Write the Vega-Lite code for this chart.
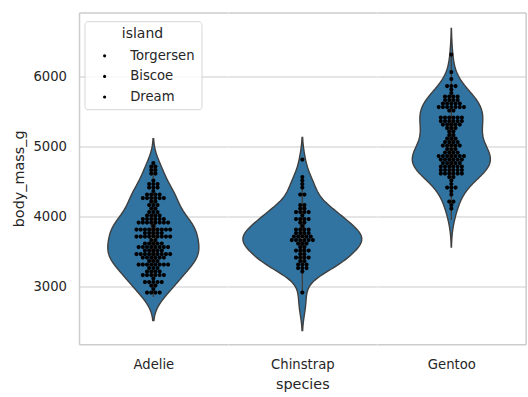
{
"$schema": "https://vega.github.io/schema/vega-lite/v6.json",
"background": "white",
"padding": {"left": 11, "top": 12.5, "right": 4, "bottom": 5},
"spacing": 0,
"bounds": "flush",
"config": {
  "view": {"stroke": null},
  "font": "DejaVu Sans",
  "legend": {"orient": "none", "legendX": 5.5, "legendY": 8.7, "fillColor": "rgba(255,255,255,0.8)", "strokeColor": "#d6d6d6", "cornerRadius": 3, "padding": 6, "titleFontSize": 14, "titleFontWeight": "normal", "titleColor": "#262626", "titleAnchor": "middle", "titlePadding": 8, "labelFontSize": 13.2, "labelColor": "#262626", "labelOffset": 19, "symbolOffset": 7.5, "symbolSize": 10, "symbolType": "circle", "symbolStrokeWidth": 0, "rowPadding": 6.6}
},
"datasets": {"penguins": [
{"species":"Adelie","island":"Torgersen","body_mass_g":3750},{"species":"Adelie","island":"Torgersen","body_mass_g":3800},{"species":"Adelie","island":"Torgersen","body_mass_g":3250},{"species":"Adelie","island":"Torgersen","body_mass_g":3450},{"species":"Adelie","island":"Torgersen","body_mass_g":3650},{"species":"Adelie","island":"Torgersen","body_mass_g":3625},{"species":"Adelie","island":"Torgersen","body_mass_g":4675},{"species":"Adelie","island":"Torgersen","body_mass_g":3475},{"species":"Adelie","island":"Torgersen","body_mass_g":4250},{"species":"Adelie","island":"Torgersen","body_mass_g":3300},{"species":"Adelie","island":"Torgersen","body_mass_g":3700},{"species":"Adelie","island":"Torgersen","body_mass_g":3200},{"species":"Adelie","island":"Torgersen","body_mass_g":3800},{"species":"Adelie","island":"Torgersen","body_mass_g":4400},{"species":"Adelie","island":"Torgersen","body_mass_g":3700},{"species":"Adelie","island":"Torgersen","body_mass_g":3450},{"species":"Adelie","island":"Torgersen","body_mass_g":4500},{"species":"Adelie","island":"Torgersen","body_mass_g":3325},{"species":"Adelie","island":"Torgersen","body_mass_g":4200},
{"species":"Adelie","island":"Biscoe","body_mass_g":3400},{"species":"Adelie","island":"Biscoe","body_mass_g":3600},{"species":"Adelie","island":"Biscoe","body_mass_g":3800},{"species":"Adelie","island":"Biscoe","body_mass_g":3950},{"species":"Adelie","island":"Biscoe","body_mass_g":3800},{"species":"Adelie","island":"Biscoe","body_mass_g":3800},{"species":"Adelie","island":"Biscoe","body_mass_g":3550},{"species":"Adelie","island":"Biscoe","body_mass_g":3200},{"species":"Adelie","island":"Biscoe","body_mass_g":3150},{"species":"Adelie","island":"Biscoe","body_mass_g":3950},{"species":"Adelie","island":"Biscoe","body_mass_g":3250},{"species":"Adelie","island":"Biscoe","body_mass_g":3900},{"species":"Adelie","island":"Biscoe","body_mass_g":3300},{"species":"Adelie","island":"Biscoe","body_mass_g":3900},{"species":"Adelie","island":"Biscoe","body_mass_g":3325},{"species":"Adelie","island":"Biscoe","body_mass_g":4150},{"species":"Adelie","island":"Biscoe","body_mass_g":3950},{"species":"Adelie","island":"Biscoe","body_mass_g":3550},{"species":"Adelie","island":"Biscoe","body_mass_g":3300},{"species":"Adelie","island":"Biscoe","body_mass_g":4650},{"species":"Adelie","island":"Biscoe","body_mass_g":3150},{"species":"Adelie","island":"Biscoe","body_mass_g":3900},{"species":"Adelie","island":"Biscoe","body_mass_g":3100},{"species":"Adelie","island":"Biscoe","body_mass_g":4400},{"species":"Adelie","island":"Biscoe","body_mass_g":3000},{"species":"Adelie","island":"Biscoe","body_mass_g":4600},{"species":"Adelie","island":"Biscoe","body_mass_g":3425},{"species":"Adelie","island":"Biscoe","body_mass_g":2975},{"species":"Adelie","island":"Biscoe","body_mass_g":3450},{"species":"Adelie","island":"Biscoe","body_mass_g":4150},{"species":"Adelie","island":"Biscoe","body_mass_g":3500},{"species":"Adelie","island":"Biscoe","body_mass_g":4300},{"species":"Adelie","island":"Biscoe","body_mass_g":3450},{"species":"Adelie","island":"Biscoe","body_mass_g":4050},{"species":"Adelie","island":"Biscoe","body_mass_g":2900},{"species":"Adelie","island":"Biscoe","body_mass_g":3700},{"species":"Adelie","island":"Biscoe","body_mass_g":3550},{"species":"Adelie","island":"Biscoe","body_mass_g":3800},{"species":"Adelie","island":"Biscoe","body_mass_g":2850},{"species":"Adelie","island":"Biscoe","body_mass_g":3750},{"species":"Adelie","island":"Biscoe","body_mass_g":3150},{"species":"Adelie","island":"Biscoe","body_mass_g":4400},{"species":"Adelie","island":"Biscoe","body_mass_g":3600},{"species":"Adelie","island":"Biscoe","body_mass_g":4050},
{"species":"Adelie","island":"Dream","body_mass_g":2850},{"species":"Adelie","island":"Dream","body_mass_g":3950},{"species":"Adelie","island":"Dream","body_mass_g":3350},{"species":"Adelie","island":"Dream","body_mass_g":4100},{"species":"Adelie","island":"Dream","body_mass_g":3050},{"species":"Adelie","island":"Dream","body_mass_g":4450},{"species":"Adelie","island":"Dream","body_mass_g":3600},{"species":"Adelie","island":"Dream","body_mass_g":3900},{"species":"Adelie","island":"Dream","body_mass_g":3550},{"species":"Adelie","island":"Dream","body_mass_g":4150},{"species":"Adelie","island":"Dream","body_mass_g":3700},{"species":"Adelie","island":"Dream","body_mass_g":4250},{"species":"Adelie","island":"Dream","body_mass_g":3700},{"species":"Adelie","island":"Dream","body_mass_g":3900},{"species":"Adelie","island":"Dream","body_mass_g":3550},{"species":"Adelie","island":"Dream","body_mass_g":4000},{"species":"Adelie","island":"Dream","body_mass_g":3200},{"species":"Adelie","island":"Dream","body_mass_g":4700},{"species":"Adelie","island":"Dream","body_mass_g":3800},{"species":"Adelie","island":"Dream","body_mass_g":4200},{"species":"Adelie","island":"Dream","body_mass_g":3350},{"species":"Adelie","island":"Dream","body_mass_g":3550},{"species":"Adelie","island":"Dream","body_mass_g":3800},{"species":"Adelie","island":"Dream","body_mass_g":3500},{"species":"Adelie","island":"Dream","body_mass_g":3950},{"species":"Adelie","island":"Dream","body_mass_g":3600},{"species":"Adelie","island":"Dream","body_mass_g":3550},{"species":"Adelie","island":"Dream","body_mass_g":4300},{"species":"Adelie","island":"Dream","body_mass_g":3400},{"species":"Adelie","island":"Dream","body_mass_g":4450},{"species":"Adelie","island":"Dream","body_mass_g":3300},{"species":"Adelie","island":"Dream","body_mass_g":4300},{"species":"Adelie","island":"Dream","body_mass_g":3700},{"species":"Adelie","island":"Dream","body_mass_g":4350},{"species":"Adelie","island":"Dream","body_mass_g":2900},{"species":"Adelie","island":"Dream","body_mass_g":4100},{"species":"Adelie","island":"Dream","body_mass_g":3725},{"species":"Adelie","island":"Dream","body_mass_g":4725},{"species":"Adelie","island":"Dream","body_mass_g":3075},{"species":"Adelie","island":"Dream","body_mass_g":4250},{"species":"Adelie","island":"Dream","body_mass_g":2925},{"species":"Adelie","island":"Dream","body_mass_g":3550},{"species":"Adelie","island":"Dream","body_mass_g":3750},{"species":"Adelie","island":"Dream","body_mass_g":3900},{"species":"Adelie","island":"Dream","body_mass_g":3175},{"species":"Adelie","island":"Dream","body_mass_g":4775},{"species":"Adelie","island":"Dream","body_mass_g":3825},{"species":"Adelie","island":"Dream","body_mass_g":4600},{"species":"Adelie","island":"Dream","body_mass_g":3200},{"species":"Adelie","island":"Dream","body_mass_g":4275},{"species":"Adelie","island":"Dream","body_mass_g":3900},{"species":"Adelie","island":"Dream","body_mass_g":4075},{"species":"Adelie","island":"Dream","body_mass_g":2900},{"species":"Adelie","island":"Dream","body_mass_g":3775},{"species":"Adelie","island":"Dream","body_mass_g":3350},{"species":"Adelie","island":"Dream","body_mass_g":3325},
{"species":"Adelie","island":"Torgersen","body_mass_g":3150},{"species":"Adelie","island":"Torgersen","body_mass_g":3500},{"species":"Adelie","island":"Torgersen","body_mass_g":3450},{"species":"Adelie","island":"Torgersen","body_mass_g":3875},{"species":"Adelie","island":"Torgersen","body_mass_g":3050},{"species":"Adelie","island":"Torgersen","body_mass_g":4000},{"species":"Adelie","island":"Torgersen","body_mass_g":3275},{"species":"Adelie","island":"Torgersen","body_mass_g":4300},{"species":"Adelie","island":"Torgersen","body_mass_g":3050},{"species":"Adelie","island":"Torgersen","body_mass_g":4000},{"species":"Adelie","island":"Torgersen","body_mass_g":3325},{"species":"Adelie","island":"Torgersen","body_mass_g":3500},{"species":"Adelie","island":"Torgersen","body_mass_g":3500},{"species":"Adelie","island":"Torgersen","body_mass_g":4475},{"species":"Adelie","island":"Torgersen","body_mass_g":3425},{"species":"Adelie","island":"Torgersen","body_mass_g":3900},{"species":"Adelie","island":"Torgersen","body_mass_g":3175},{"species":"Adelie","island":"Torgersen","body_mass_g":3975},{"species":"Adelie","island":"Torgersen","body_mass_g":3400},{"species":"Adelie","island":"Torgersen","body_mass_g":4250},{"species":"Adelie","island":"Torgersen","body_mass_g":3400},{"species":"Adelie","island":"Torgersen","body_mass_g":3475},{"species":"Adelie","island":"Torgersen","body_mass_g":3050},{"species":"Adelie","island":"Torgersen","body_mass_g":3725},{"species":"Adelie","island":"Torgersen","body_mass_g":3000},{"species":"Adelie","island":"Torgersen","body_mass_g":3650},{"species":"Adelie","island":"Torgersen","body_mass_g":4250},{"species":"Adelie","island":"Torgersen","body_mass_g":3475},{"species":"Adelie","island":"Torgersen","body_mass_g":3450},{"species":"Adelie","island":"Torgersen","body_mass_g":3750},{"species":"Adelie","island":"Torgersen","body_mass_g":3700},{"species":"Adelie","island":"Torgersen","body_mass_g":4000},
{"species":"Chinstrap","island":"Dream","body_mass_g":3500},{"species":"Chinstrap","island":"Dream","body_mass_g":3900},{"species":"Chinstrap","island":"Dream","body_mass_g":3650},{"species":"Chinstrap","island":"Dream","body_mass_g":3525},{"species":"Chinstrap","island":"Dream","body_mass_g":3725},{"species":"Chinstrap","island":"Dream","body_mass_g":3950},{"species":"Chinstrap","island":"Dream","body_mass_g":3250},{"species":"Chinstrap","island":"Dream","body_mass_g":3750},{"species":"Chinstrap","island":"Dream","body_mass_g":4150},{"species":"Chinstrap","island":"Dream","body_mass_g":3700},{"species":"Chinstrap","island":"Dream","body_mass_g":3800},{"species":"Chinstrap","island":"Dream","body_mass_g":3775},{"species":"Chinstrap","island":"Dream","body_mass_g":3700},{"species":"Chinstrap","island":"Dream","body_mass_g":4050},{"species":"Chinstrap","island":"Dream","body_mass_g":3575},{"species":"Chinstrap","island":"Dream","body_mass_g":4050},{"species":"Chinstrap","island":"Dream","body_mass_g":3300},{"species":"Chinstrap","island":"Dream","body_mass_g":3700},{"species":"Chinstrap","island":"Dream","body_mass_g":3450},{"species":"Chinstrap","island":"Dream","body_mass_g":4400},{"species":"Chinstrap","island":"Dream","body_mass_g":3600},{"species":"Chinstrap","island":"Dream","body_mass_g":3400},{"species":"Chinstrap","island":"Dream","body_mass_g":2900},{"species":"Chinstrap","island":"Dream","body_mass_g":3800},{"species":"Chinstrap","island":"Dream","body_mass_g":3300},{"species":"Chinstrap","island":"Dream","body_mass_g":4150},{"species":"Chinstrap","island":"Dream","body_mass_g":3400},{"species":"Chinstrap","island":"Dream","body_mass_g":3800},{"species":"Chinstrap","island":"Dream","body_mass_g":3700},{"species":"Chinstrap","island":"Dream","body_mass_g":4550},{"species":"Chinstrap","island":"Dream","body_mass_g":3200},{"species":"Chinstrap","island":"Dream","body_mass_g":4300},{"species":"Chinstrap","island":"Dream","body_mass_g":3350},{"species":"Chinstrap","island":"Dream","body_mass_g":4100},{"species":"Chinstrap","island":"Dream","body_mass_g":3600},{"species":"Chinstrap","island":"Dream","body_mass_g":3900},{"species":"Chinstrap","island":"Dream","body_mass_g":3850},{"species":"Chinstrap","island":"Dream","body_mass_g":4800},{"species":"Chinstrap","island":"Dream","body_mass_g":2700},{"species":"Chinstrap","island":"Dream","body_mass_g":4500},{"species":"Chinstrap","island":"Dream","body_mass_g":3950},{"species":"Chinstrap","island":"Dream","body_mass_g":3650},{"species":"Chinstrap","island":"Dream","body_mass_g":3550},{"species":"Chinstrap","island":"Dream","body_mass_g":3500},{"species":"Chinstrap","island":"Dream","body_mass_g":3675},{"species":"Chinstrap","island":"Dream","body_mass_g":4450},{"species":"Chinstrap","island":"Dream","body_mass_g":3400},{"species":"Chinstrap","island":"Dream","body_mass_g":4300},{"species":"Chinstrap","island":"Dream","body_mass_g":3250},{"species":"Chinstrap","island":"Dream","body_mass_g":3675},{"species":"Chinstrap","island":"Dream","body_mass_g":3325},{"species":"Chinstrap","island":"Dream","body_mass_g":3950},{"species":"Chinstrap","island":"Dream","body_mass_g":3600},{"species":"Chinstrap","island":"Dream","body_mass_g":4050},{"species":"Chinstrap","island":"Dream","body_mass_g":3350},{"species":"Chinstrap","island":"Dream","body_mass_g":3450},{"species":"Chinstrap","island":"Dream","body_mass_g":3250},{"species":"Chinstrap","island":"Dream","body_mass_g":4050},{"species":"Chinstrap","island":"Dream","body_mass_g":3800},{"species":"Chinstrap","island":"Dream","body_mass_g":3525},{"species":"Chinstrap","island":"Dream","body_mass_g":3950},{"species":"Chinstrap","island":"Dream","body_mass_g":3650},{"species":"Chinstrap","island":"Dream","body_mass_g":3650},{"species":"Chinstrap","island":"Dream","body_mass_g":4000},{"species":"Chinstrap","island":"Dream","body_mass_g":3400},{"species":"Chinstrap","island":"Dream","body_mass_g":3775},{"species":"Chinstrap","island":"Dream","body_mass_g":4100},{"species":"Chinstrap","island":"Dream","body_mass_g":3775},
{"species":"Gentoo","island":"Biscoe","body_mass_g":4500},{"species":"Gentoo","island":"Biscoe","body_mass_g":5700},{"species":"Gentoo","island":"Biscoe","body_mass_g":4450},{"species":"Gentoo","island":"Biscoe","body_mass_g":5700},{"species":"Gentoo","island":"Biscoe","body_mass_g":5400},{"species":"Gentoo","island":"Biscoe","body_mass_g":4550},{"species":"Gentoo","island":"Biscoe","body_mass_g":4800},{"species":"Gentoo","island":"Biscoe","body_mass_g":5200},{"species":"Gentoo","island":"Biscoe","body_mass_g":4400},{"species":"Gentoo","island":"Biscoe","body_mass_g":5150},
{"species":"Gentoo","island":"Biscoe","body_mass_g":4650},{"species":"Gentoo","island":"Biscoe","body_mass_g":5550},{"species":"Gentoo","island":"Biscoe","body_mass_g":4650},{"species":"Gentoo","island":"Biscoe","body_mass_g":5850},{"species":"Gentoo","island":"Biscoe","body_mass_g":4200},{"species":"Gentoo","island":"Biscoe","body_mass_g":5850},{"species":"Gentoo","island":"Biscoe","body_mass_g":4150},{"species":"Gentoo","island":"Biscoe","body_mass_g":6300},{"species":"Gentoo","island":"Biscoe","body_mass_g":4800},{"species":"Gentoo","island":"Biscoe","body_mass_g":5350},
{"species":"Gentoo","island":"Biscoe","body_mass_g":5700},{"species":"Gentoo","island":"Biscoe","body_mass_g":5000},{"species":"Gentoo","island":"Biscoe","body_mass_g":4400},{"species":"Gentoo","island":"Biscoe","body_mass_g":5050},{"species":"Gentoo","island":"Biscoe","body_mass_g":5000},{"species":"Gentoo","island":"Biscoe","body_mass_g":5100},{"species":"Gentoo","island":"Biscoe","body_mass_g":4100},{"species":"Gentoo","island":"Biscoe","body_mass_g":5650},{"species":"Gentoo","island":"Biscoe","body_mass_g":4600},{"species":"Gentoo","island":"Biscoe","body_mass_g":5550},
{"species":"Gentoo","island":"Biscoe","body_mass_g":5250},{"species":"Gentoo","island":"Biscoe","body_mass_g":4700},{"species":"Gentoo","island":"Biscoe","body_mass_g":5050},{"species":"Gentoo","island":"Biscoe","body_mass_g":6050},{"species":"Gentoo","island":"Biscoe","body_mass_g":5150},{"species":"Gentoo","island":"Biscoe","body_mass_g":5400},{"species":"Gentoo","island":"Biscoe","body_mass_g":4950},{"species":"Gentoo","island":"Biscoe","body_mass_g":5250},{"species":"Gentoo","island":"Biscoe","body_mass_g":4350},{"species":"Gentoo","island":"Biscoe","body_mass_g":5350},
{"species":"Gentoo","island":"Biscoe","body_mass_g":3950},{"species":"Gentoo","island":"Biscoe","body_mass_g":5700},{"species":"Gentoo","island":"Biscoe","body_mass_g":4300},{"species":"Gentoo","island":"Biscoe","body_mass_g":4750},{"species":"Gentoo","island":"Biscoe","body_mass_g":5550},{"species":"Gentoo","island":"Biscoe","body_mass_g":4900},{"species":"Gentoo","island":"Biscoe","body_mass_g":4200},{"species":"Gentoo","island":"Biscoe","body_mass_g":5400},{"species":"Gentoo","island":"Biscoe","body_mass_g":5100},{"species":"Gentoo","island":"Biscoe","body_mass_g":5300},
{"species":"Gentoo","island":"Biscoe","body_mass_g":4850},{"species":"Gentoo","island":"Biscoe","body_mass_g":5300},{"species":"Gentoo","island":"Biscoe","body_mass_g":4400},{"species":"Gentoo","island":"Biscoe","body_mass_g":5000},{"species":"Gentoo","island":"Biscoe","body_mass_g":4600},{"species":"Gentoo","island":"Biscoe","body_mass_g":5050},{"species":"Gentoo","island":"Biscoe","body_mass_g":4750},{"species":"Gentoo","island":"Biscoe","body_mass_g":5000},{"species":"Gentoo","island":"Biscoe","body_mass_g":5100},{"species":"Gentoo","island":"Biscoe","body_mass_g":5350},
{"species":"Gentoo","island":"Biscoe","body_mass_g":4700},{"species":"Gentoo","island":"Biscoe","body_mass_g":5650},{"species":"Gentoo","island":"Biscoe","body_mass_g":4625},{"species":"Gentoo","island":"Biscoe","body_mass_g":5600},{"species":"Gentoo","island":"Biscoe","body_mass_g":4900},{"species":"Gentoo","island":"Biscoe","body_mass_g":5350},{"species":"Gentoo","island":"Biscoe","body_mass_g":4675},{"species":"Gentoo","island":"Biscoe","body_mass_g":5350},{"species":"Gentoo","island":"Biscoe","body_mass_g":4850},{"species":"Gentoo","island":"Biscoe","body_mass_g":5600},
{"species":"Gentoo","island":"Biscoe","body_mass_g":4875},{"species":"Gentoo","island":"Biscoe","body_mass_g":5300},{"species":"Gentoo","island":"Biscoe","body_mass_g":4625},{"species":"Gentoo","island":"Biscoe","body_mass_g":5550},{"species":"Gentoo","island":"Biscoe","body_mass_g":4725},{"species":"Gentoo","island":"Biscoe","body_mass_g":5500},{"species":"Gentoo","island":"Biscoe","body_mass_g":4600},{"species":"Gentoo","island":"Biscoe","body_mass_g":5400},{"species":"Gentoo","island":"Biscoe","body_mass_g":4775},{"species":"Gentoo","island":"Biscoe","body_mass_g":5600},
{"species":"Gentoo","island":"Biscoe","body_mass_g":4900},{"species":"Gentoo","island":"Biscoe","body_mass_g":5800},{"species":"Gentoo","island":"Biscoe","body_mass_g":4950},{"species":"Gentoo","island":"Biscoe","body_mass_g":5600},{"species":"Gentoo","island":"Biscoe","body_mass_g":4825},{"species":"Gentoo","island":"Biscoe","body_mass_g":5250},{"species":"Gentoo","island":"Biscoe","body_mass_g":4650},{"species":"Gentoo","island":"Biscoe","body_mass_g":5650},{"species":"Gentoo","island":"Biscoe","body_mass_g":4725},{"species":"Gentoo","island":"Biscoe","body_mass_g":5550},
{"species":"Gentoo","island":"Biscoe","body_mass_g":4875},{"species":"Gentoo","island":"Biscoe","body_mass_g":5850},{"species":"Gentoo","island":"Biscoe","body_mass_g":4600},{"species":"Gentoo","island":"Biscoe","body_mass_g":5950},{"species":"Gentoo","island":"Biscoe","body_mass_g":4650},{"species":"Gentoo","island":"Biscoe","body_mass_g":5750},{"species":"Gentoo","island":"Biscoe","body_mass_g":4800},{"species":"Gentoo","island":"Biscoe","body_mass_g":5350},{"species":"Gentoo","island":"Biscoe","body_mass_g":4550},{"species":"Gentoo","island":"Biscoe","body_mass_g":5300},
{"species":"Gentoo","island":"Biscoe","body_mass_g":4725},{"species":"Gentoo","island":"Biscoe","body_mass_g":5600},{"species":"Gentoo","island":"Biscoe","body_mass_g":4750},{"species":"Gentoo","island":"Biscoe","body_mass_g":5050},{"species":"Gentoo","island":"Biscoe","body_mass_g":4650},{"species":"Gentoo","island":"Biscoe","body_mass_g":5550},{"species":"Gentoo","island":"Biscoe","body_mass_g":4800},{"species":"Gentoo","island":"Biscoe","body_mass_g":5000},{"species":"Gentoo","island":"Biscoe","body_mass_g":4850},{"species":"Gentoo","island":"Biscoe","body_mass_g":5400},
{"species":"Gentoo","island":"Biscoe","body_mass_g":4750},{"species":"Gentoo","island":"Biscoe","body_mass_g":5500},{"species":"Gentoo","island":"Biscoe","body_mass_g":4875},{"species":"Gentoo","island":"Biscoe","body_mass_g":5550},{"species":"Gentoo","island":"Biscoe","body_mass_g":4950},{"species":"Gentoo","island":"Biscoe","body_mass_g":5400},{"species":"Gentoo","island":"Biscoe","body_mass_g":4700},{"species":"Gentoo","island":"Biscoe","body_mass_g":5200},{"species":"Gentoo","island":"Biscoe","body_mass_g":4800},{"species":"Gentoo","island":"Biscoe","body_mass_g":5650},
{"species":"Gentoo","island":"Biscoe","body_mass_g":4850},{"species":"Gentoo","island":"Biscoe","body_mass_g":5300},{"species":"Gentoo","island":"Biscoe","body_mass_g":4925}
]},
"hconcat": [
{
 "width": 148.67, "height": 331.7,
 "layer": [
  {"data": {"name": "penguins"},
   "transform": [{"filter": "datum.species === 'Adelie'"}, {"density": "body_mass_g", "bandwidth": 168.1, "extent": [2514, 5111], "steps": 200}],
   "mark": {"type": "area", "orient": "horizontal", "fill": "#3274a1", "stroke": "#3f3f3f", "strokeWidth": 1.4},
   "encoding": {
     "x": {"field": "density", "type": "quantitative", "stack": "center", "impute": null, "scale": {"zero": true, "nice": false, "padding": 28.8},
           "axis": {"orient": "bottom", "domain": true, "domainColor": "#cccccc", "domainWidth": 1.5, "ticks": false, "labels": false, "grid": false, "title": "Adelie", "titleFontSize": 13.2, "titleFontWeight": "normal", "titleColor": "#262626", "titlePadding": 14}},
     "y": {"field": "value", "type": "quantitative", "scale": {"domain": [2175.7, 6914.3], "nice": false, "zero": false},
           "axis": {"values": [3000, 4000, 5000, 6000], "format": "d", "grid": true, "gridColor": "#cccccc", "gridWidth": 1.2, "domain": true, "domainColor": "#cccccc", "domainWidth": 1.5, "ticks": false, "tickSize": 0, "labelPadding": 12.5, "labelFontSize": 13.2, "labelColor": "#262626", "title": "body_mass_g", "titleFontSize": 14.4, "titleFontWeight": "normal", "titleColor": "#262626", "titlePadding": 6}}
   }},
  {"data": {"name": "penguins"},
   "transform": [{"filter": "datum.species === 'Adelie'"},
     {"joinaggregate": [{"op": "q1", "field": "body_mass_g", "as": "q1"}, {"op": "q3", "field": "body_mass_g", "as": "q3"}]},
     {"filter": "datum.body_mass_g >= datum.q1 - 1.5 * (datum.q3 - datum.q1) && datum.body_mass_g <= datum.q3 + 1.5 * (datum.q3 - datum.q1)"},
     {"aggregate": [{"op": "min", "field": "body_mass_g", "as": "lo"}, {"op": "max", "field": "body_mass_g", "as": "hi"}]}],
   "mark": {"type": "rule", "color": "#3f3f3f", "strokeWidth": 1.4},
   "encoding": {
     "x": {"datum": 0, "type": "quantitative", "scale": {"domain": [-1, 1]}, "axis": {"orient": "top", "domain": true, "domainColor": "#cccccc", "domainWidth": 1.5, "ticks": false, "labels": false, "grid": false, "title": null}},
     "y": {"field": "lo", "type": "quantitative", "scale": {"domain": [2175.7, 6914.3], "nice": false, "zero": false}, "axis": null},
     "y2": {"field": "hi"}
   }},
  {"data": {"name": "penguins"},
   "transform": [{"filter": "datum.species === 'Adelie'"},
     {"aggregate": [{"op": "q1", "field": "body_mass_g", "as": "q1"}, {"op": "q3", "field": "body_mass_g", "as": "q3"}, {"op": "median", "field": "body_mass_g", "as": "med"}]}],
   "layer": [
     {"mark": {"type": "rule", "color": "#3f3f3f", "strokeWidth": 5.5},
      "encoding": {
        "x": {"datum": 0, "type": "quantitative", "scale": {"domain": [-1, 1]}, "axis": null},
        "y": {"field": "q1", "type": "quantitative", "scale": {"domain": [2175.7, 6914.3], "nice": false, "zero": false}, "axis": null},
        "y2": {"field": "q3"}
      }},
     {"mark": {"type": "circle", "color": "white", "size": 10, "opacity": 1},
      "encoding": {
        "x": {"datum": 0, "type": "quantitative", "scale": {"domain": [-1, 1]}, "axis": null},
        "y": {"field": "med", "type": "quantitative", "scale": {"domain": [2175.7, 6914.3], "nice": false, "zero": false}, "axis": null}
      }}
   ]},
  {"data": {"name": "penguins"},
   "transform": [{"filter": "datum.species === 'Adelie'"}, {"window": [{"op": "row_number", "as": "rid"}]}, {"bin": {"step": 50, "anchor": 2837.5, "nice": false}, "field": "body_mass_g", "as": "mb"}],
   "mark": {"type": "circle", "size": 17, "opacity": 1, "yOffset": -1.75},
   "encoding": {
     "x": {"aggregate": "count", "type": "quantitative", "stack": "center", "bandPosition": 0.5, "scale": {"zero": true, "nice": false, "padding": 55.4}, "axis": null},
     "y": {"field": "mb", "type": "quantitative", "scale": {"domain": [2175.7, 6914.3], "nice": false, "zero": false}, "axis": null},
     "color": {"field": "island", "type": "nominal", "scale": {"domain": ["Torgersen", "Biscoe", "Dream"], "range": ["#000000", "#000000", "#000000"]}, "legend": {"title": "island"}},
     "detail": {"field": "rid", "type": "quantitative"}
   }}
 ],
 "resolve": {"scale": {"x": "independent"}, "axis": {"x": "independent", "y": "independent"}}
},
{
 "width": 148.67, "height": 331.7,
 "layer": [
  {"data": {"name": "penguins"},
   "transform": [{"filter": "datum.species === 'Chinstrap'"}, {"density": "body_mass_g", "bandwidth": 165.2, "extent": [2370, 5130], "steps": 200}],
   "mark": {"type": "area", "orient": "horizontal", "fill": "#3274a1", "stroke": "#3f3f3f", "strokeWidth": 1.4},
   "encoding": {
     "x": {"field": "density", "type": "quantitative", "stack": "center", "impute": null, "scale": {"zero": true, "nice": false, "padding": 14.9},
           "axis": {"orient": "bottom", "domain": true, "domainColor": "#cccccc", "domainWidth": 1.5, "ticks": false, "labels": false, "grid": false, "title": "Chinstrap", "titleFontSize": 13.2, "titleFontWeight": "normal", "titleColor": "#262626", "titlePadding": 14}},
     "y": {"field": "value", "type": "quantitative", "scale": {"domain": [2175.7, 6914.3], "nice": false, "zero": false},
           "axis": {"values": [3000, 4000, 5000, 6000], "grid": true, "gridColor": "#cccccc", "gridWidth": 1.2, "domain": false, "ticks": false, "labels": false, "title": null}}
   }},
  {"data": {"name": "penguins"},
   "transform": [{"filter": "datum.species === 'Chinstrap'"},
     {"joinaggregate": [{"op": "q1", "field": "body_mass_g", "as": "q1"}, {"op": "q3", "field": "body_mass_g", "as": "q3"}]},
     {"filter": "datum.body_mass_g >= datum.q1 - 1.5 * (datum.q3 - datum.q1) && datum.body_mass_g <= datum.q3 + 1.5 * (datum.q3 - datum.q1)"},
     {"aggregate": [{"op": "min", "field": "body_mass_g", "as": "lo"}, {"op": "max", "field": "body_mass_g", "as": "hi"}]}],
   "mark": {"type": "rule", "color": "#3f3f3f", "strokeWidth": 1.4},
   "encoding": {
     "x": {"datum": 0, "type": "quantitative", "scale": {"domain": [-1, 1]}, "axis": {"orient": "top", "domain": true, "domainColor": "#cccccc", "domainWidth": 1.5, "ticks": false, "labels": false, "grid": false, "title": null}},
     "y": {"field": "lo", "type": "quantitative", "scale": {"domain": [2175.7, 6914.3], "nice": false, "zero": false}, "axis": null},
     "y2": {"field": "hi"}
   }},
  {"data": {"name": "penguins"},
   "transform": [{"filter": "datum.species === 'Chinstrap'"},
     {"aggregate": [{"op": "q1", "field": "body_mass_g", "as": "q1"}, {"op": "q3", "field": "body_mass_g", "as": "q3"}, {"op": "median", "field": "body_mass_g", "as": "med"}]}],
   "layer": [
     {"mark": {"type": "rule", "color": "#3f3f3f", "strokeWidth": 5.5},
      "encoding": {
        "x": {"datum": 0, "type": "quantitative", "scale": {"domain": [-1, 1]}, "axis": null},
        "y": {"field": "q1", "type": "quantitative", "scale": {"domain": [2175.7, 6914.3], "nice": false, "zero": false}, "axis": null},
        "y2": {"field": "q3"}
      }},
     {"mark": {"type": "circle", "color": "white", "size": 10, "opacity": 1},
      "encoding": {
        "x": {"datum": 0, "type": "quantitative", "scale": {"domain": [-1, 1]}, "axis": null},
        "y": {"field": "med", "type": "quantitative", "scale": {"domain": [2175.7, 6914.3], "nice": false, "zero": false}, "axis": null}
      }}
   ]},
  {"data": {"name": "penguins"},
   "transform": [{"filter": "datum.species === 'Chinstrap'"}, {"window": [{"op": "row_number", "as": "rid"}]}, {"bin": {"step": 50, "anchor": 2837.5, "nice": false}, "field": "body_mass_g", "as": "mb"}],
   "mark": {"type": "circle", "size": 17, "opacity": 1, "yOffset": -1.75},
   "encoding": {
     "x": {"aggregate": "count", "type": "quantitative", "stack": "center", "bandPosition": 0.5, "scale": {"zero": true, "nice": false, "padding": 61.7},
           "axis": {"orient": "bottom", "domain": false, "ticks": false, "labels": false, "grid": false, "title": "species", "titleFontSize": 14.4, "titleFontWeight": "normal", "titleColor": "#262626", "titlePadding": 33}},
     "y": {"field": "mb", "type": "quantitative", "scale": {"domain": [2175.7, 6914.3], "nice": false, "zero": false}, "axis": null},
     "color": {"field": "island", "type": "nominal", "scale": {"domain": ["Torgersen", "Biscoe", "Dream"], "range": ["#000000", "#000000", "#000000"]}, "legend": {"title": "island"}},
     "detail": {"field": "rid", "type": "quantitative"}
   }}
 ],
 "resolve": {"scale": {"x": "independent"}, "axis": {"x": "independent", "y": "independent"}}
},
{
 "width": 148.67, "height": 331.7,
 "layer": [
  {"data": {"name": "penguins"},
   "transform": [{"filter": "datum.species === 'Gentoo'"}, {"density": "body_mass_g", "bandwidth": 192.6, "extent": [3565, 6685], "steps": 200}],
   "mark": {"type": "area", "orient": "horizontal", "fill": "#3274a1", "stroke": "#3f3f3f", "strokeWidth": 1.4},
   "encoding": {
     "x": {"field": "density", "type": "quantitative", "stack": "center", "impute": null, "scale": {"zero": true, "nice": false, "padding": 35.3},
           "axis": {"orient": "bottom", "domain": true, "domainColor": "#cccccc", "domainWidth": 1.5, "ticks": false, "labels": false, "grid": false, "title": "Gentoo", "titleFontSize": 13.2, "titleFontWeight": "normal", "titleColor": "#262626", "titlePadding": 14}},
     "y": {"field": "value", "type": "quantitative", "scale": {"domain": [2175.7, 6914.3], "nice": false, "zero": false},
           "axis": {"values": [3000, 4000, 5000, 6000], "grid": true, "gridColor": "#cccccc", "gridWidth": 1.2, "domain": false, "ticks": false, "labels": false, "title": null}}
   }},
  {"data": {"name": "penguins"},
   "transform": [{"filter": "datum.species === 'Gentoo'"},
     {"joinaggregate": [{"op": "q1", "field": "body_mass_g", "as": "q1"}, {"op": "q3", "field": "body_mass_g", "as": "q3"}]},
     {"filter": "datum.body_mass_g >= datum.q1 - 1.5 * (datum.q3 - datum.q1) && datum.body_mass_g <= datum.q3 + 1.5 * (datum.q3 - datum.q1)"},
     {"aggregate": [{"op": "min", "field": "body_mass_g", "as": "lo"}, {"op": "max", "field": "body_mass_g", "as": "hi"}]}],
   "mark": {"type": "rule", "color": "#3f3f3f", "strokeWidth": 1.4},
   "encoding": {
     "x": {"datum": 0, "type": "quantitative", "scale": {"domain": [-1, 1]}, "axis": {"orient": "top", "domain": true, "domainColor": "#cccccc", "domainWidth": 1.5, "ticks": false, "labels": false, "grid": false, "title": null}},
     "y": {"field": "lo", "type": "quantitative", "scale": {"domain": [2175.7, 6914.3], "nice": false, "zero": false},
           "axis": {"orient": "right", "domain": true, "domainColor": "#cccccc", "domainWidth": 1.5, "ticks": false, "labels": false, "grid": false, "title": null}},
     "y2": {"field": "hi"}
   }},
  {"data": {"name": "penguins"},
   "transform": [{"filter": "datum.species === 'Gentoo'"},
     {"aggregate": [{"op": "q1", "field": "body_mass_g", "as": "q1"}, {"op": "q3", "field": "body_mass_g", "as": "q3"}, {"op": "median", "field": "body_mass_g", "as": "med"}]}],
   "layer": [
     {"mark": {"type": "rule", "color": "#3f3f3f", "strokeWidth": 5.5},
      "encoding": {
        "x": {"datum": 0, "type": "quantitative", "scale": {"domain": [-1, 1]}, "axis": null},
        "y": {"field": "q1", "type": "quantitative", "scale": {"domain": [2175.7, 6914.3], "nice": false, "zero": false}, "axis": null},
        "y2": {"field": "q3"}
      }},
     {"mark": {"type": "circle", "color": "white", "size": 10, "opacity": 1},
      "encoding": {
        "x": {"datum": 0, "type": "quantitative", "scale": {"domain": [-1, 1]}, "axis": null},
        "y": {"field": "med", "type": "quantitative", "scale": {"domain": [2175.7, 6914.3], "nice": false, "zero": false}, "axis": null}
      }}
   ]},
  {"data": {"name": "penguins"},
   "transform": [{"filter": "datum.species === 'Gentoo'"}, {"window": [{"op": "row_number", "as": "rid"}]}, {"bin": {"step": 50, "anchor": 2837.5, "nice": false}, "field": "body_mass_g", "as": "mb"}],
   "mark": {"type": "circle", "size": 17, "opacity": 1, "yOffset": -1.75},
   "encoding": {
     "x": {"aggregate": "count", "type": "quantitative", "stack": "center", "bandPosition": 0.5, "scale": {"zero": true, "nice": false, "padding": 59.6}, "axis": null},
     "y": {"field": "mb", "type": "quantitative", "scale": {"domain": [2175.7, 6914.3], "nice": false, "zero": false}, "axis": null},
     "color": {"field": "island", "type": "nominal", "scale": {"domain": ["Torgersen", "Biscoe", "Dream"], "range": ["#000000", "#000000", "#000000"]}, "legend": {"title": "island"}},
     "detail": {"field": "rid", "type": "quantitative"}
   }}
 ],
 "resolve": {"scale": {"x": "independent"}, "axis": {"x": "independent", "y": "independent"}}
}
]
}
